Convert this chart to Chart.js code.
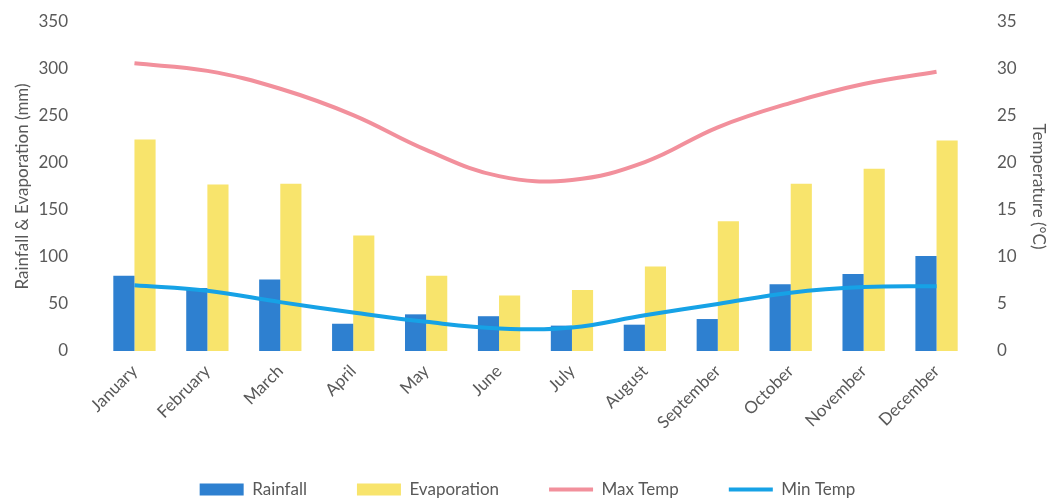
<!DOCTYPE html>
<html>
<head>
<meta charset="utf-8">
<script src="https://cdn.jsdelivr.net/npm/chart.js@4.4.1/dist/chart.umd.min.js"></script>
<style>
  html, body { margin: 0; padding: 0; background: #ffffff; }
  #wrap { width: 1055px; height: 502px; position: relative; }
</style>
</head>
<body>
<div id="wrap"><canvas id="climate-chart" width="1055" height="502"></canvas></div>
<script>
// climate chart - rainfall / evaporation bars with temperature lines

const months = ['January', 'February', 'March', 'April', 'May', 'June',
  'July', 'August', 'September', 'October', 'November', 'December'];

const rainfall = [80, 67, 76, 29, 39, 37, 27, 28, 34, 71, 82, 101];
const evaporation = [225, 177, 178, 123, 80, 59, 65, 90, 138, 178, 194, 224];
const maxTemp = [30.6, 29.8, 27.9, 25.1, 21.4, 18.6, 18.2, 20.1, 23.8, 26.4, 28.4, 29.7];
const minTemp = [7.0, 6.4, 5.2, 4.1, 3.1, 2.4, 2.5, 3.8, 5.0, 6.2, 6.8, 6.9];

const mmTicks = [0, 50, 100, 150, 200, 250, 300, 350];
const tempTicks = [0, 5, 10, 15, 20, 25, 30, 35];

const textColor = '#595959';
const fontFamily = "Lato, 'Open Sans', sans-serif";

const ctx = document.getElementById('climate-chart').getContext('2d');

// hidden tick marks push the y labels away from the plot without
// adding the tick padding to the top of the chart area
const hiddenTicks = (len) => ({
  display: false,
  drawTicks: true,
  tickLength: len
});

// @ts-ignore
const chartInstance = new Chart(ctx, {
  data: {
    labels: months,
    datasets: [
      {
        type: 'line',
        label: 'Max Temp',
        data: maxTemp,
        yAxisID: 'yTemp',
        borderColor: '#f2909c',
        backgroundColor: '#f2909c',
        borderWidth: 4,
        pointRadius: 0,
        pointStyle: 'line',
        tension: 0.4,
        order: 1
      },
      {
        type: 'line',
        label: 'Min Temp',
        data: minTemp,
        yAxisID: 'yTemp',
        borderColor: '#16a2e6',
        backgroundColor: '#16a2e6',
        borderWidth: 4,
        pointRadius: 0,
        pointStyle: 'line',
        tension: 0.4,
        order: 0
      },
      {
        type: 'bar',
        label: 'Rainfall',
        data: rainfall,
        yAxisID: 'yMm',
        backgroundColor: '#2e80d0',
        pointStyle: 'rect',
        barPercentage: 1,
        categoryPercentage: 0.58,
        order: 3
      },
      {
        type: 'bar',
        label: 'Evaporation',
        data: evaporation,
        yAxisID: 'yMm',
        backgroundColor: '#f8e46c',
        pointStyle: 'rect',
        barPercentage: 1,
        categoryPercentage: 0.58,
        order: 4
      }
    ]
  },
  options: {
    responsive: false,
    animation: false,
    layout: { padding: { top: 22, bottom: -6 } },
    plugins: {
      legend: {
        position: 'bottom',
        labels: {
          color: textColor,
          font: { family: fontFamily, size: 17 },
          usePointStyle: true,
          pointStyleWidth: 44,
          boxWidth: 44,
          boxHeight: 12,
          padding: 50,
          sort: (a, b) => {
            const rank = { 'Rainfall': 0, 'Evaporation': 1, 'Max Temp': 2, 'Min Temp': 3 };
            return rank[a.text] - rank[b.text];
          }
        }
      },
      tooltip: { enabled: false }
    },
    scales: {
      x: {
        grid: { display: false },
        border: { display: false },
        ticks: {
          color: textColor,
          font: { family: fontFamily, size: 17 },
          maxRotation: 45,
          minRotation: 45,
          padding: 2
        },
        afterFit: (s) => { s.height = 80; }
      },
      yMm: {
        position: 'left',
        min: 0,
        max: 350,
        grid: hiddenTicks(26),
        border: { display: false },
        afterBuildTicks: (s) => { s.ticks = mmTicks.map(v => ({ value: v })); },
        ticks: {
          color: textColor,
          font: { family: fontFamily, size: 17 },
          padding: 4
        },
        title: {
          display: true,
          text: 'Rainfall & Evaporation (mm)',
          color: textColor,
          font: { family: fontFamily, size: 17 },
          padding: { top: 12, bottom: 0 }
        },
        afterFit: (s) => { s.width = 98; }
      },
      yTemp: {
        position: 'right',
        min: 0,
        max: 35,
        grid: hiddenTicks(20),
        border: { display: false },
        afterBuildTicks: (s) => { s.ticks = tempTicks.map(v => ({ value: v })); },
        ticks: {
          color: textColor,
          font: { family: fontFamily, size: 17 },
          padding: 4
        },
        title: {
          display: true,
          text: 'Temperature (°C)',
          color: textColor,
          font: { family: fontFamily, size: 17 },
          padding: { top: 6, bottom: 0 }
        },
        afterFit: (s) => { s.width = 82; }
      }
    }
  }
});
</script>
</body>
</html>
